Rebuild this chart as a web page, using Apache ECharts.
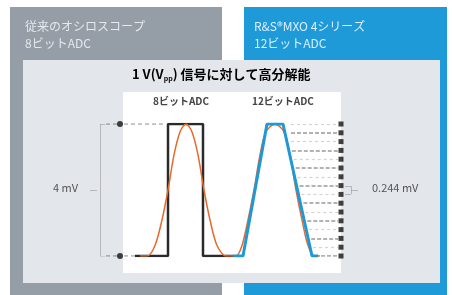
<!DOCTYPE html>
<html>
<head>
<meta charset="utf-8">
<script src="https://cdn.jsdelivr.net/npm/echarts@6/dist/echarts.min.js"></script>
<style>
  html, body { margin: 0; padding: 0; background: #fff; }
  #chart { width: 452px; height: 295px; }
</style>
</head>
<body>
<div id="chart"></div>
<script>
// time axis runs left to right, levels are ADC codes (0..15 shown)
const levels12 = [0, 1, 2, 3, 4, 5, 6, 7, 8, 9, 10, 11, 12, 13, 14, 15]
const levels8 = [0, 15]

// 8-bit quantised output (square pulse)
const pulse8X = [135, 168, 168, 203, 203, 233]
const pulse8Y = [0, 0, 15, 15, 0, 0]

// analogue input signal (orange)
const analogX = [140, 147, 155, 162, 168, 174, 180, 186, 192, 198, 204, 210, 217, 226, 232,
  236, 242, 248, 254, 260, 266, 275, 284, 290, 296, 302, 308, 315, 320]
const analogY = [0, 0, 1.2, 4.1, 7.5, 11.5, 14.1, 15, 14.1, 11.5, 7.5, 4.1, 1.2, 0, 0,
  0, 1.2, 4.1, 7.5, 11.5, 14.1, 15, 14.1, 11.5, 7.5, 4.1, 1.2, 0, 0]

// 12-bit quantised output
const pulse12X = [233, 243, 267, 283, 312, 318]
const pulse12Y = [0, 0, 15, 15, 0, 0]

const dot8X = 120
const dot12X = 341

const font = '"Noto Sans CJK JP", "Noto Sans", sans-serif'

function pairs(xs, ys) {
  return xs.map((x, i) => [x, ys[i]])
}

// where the falling 12-bit edge crosses a level
function edgeX(level) {
  const x0 = pulse12X[3], x1 = pulse12X[4]
  return x0 + (x1 - x0) * (15 - level) / 15
}

const dashDark = []
const dashLight = []
levels12.forEach(k => {
  const start = Math.max(291, edgeX(k) + 3)
  const seg = { coords: [[start, k], [dot12X - 3, k]] }
  if (k % 2 === 0) dashDark.push(seg)
  else dashLight.push(seg)
})

const leftDashes = [
  { coords: [[106, 15], [117, 15]] },
  { coords: [[124, 15], [166, 15]] },
  { coords: [[106, 0], [117, 0]] },
  { coords: [[124, 0], [138, 0]] }
]

const brackets = [
  { coords: [[100, 0], [100, 15]] },
  { coords: [[100, 15], [105, 15]] },
  { coords: [[100, 0], [105, 0]] },
  { coords: [[90, 7.5], [97, 7.5]] },
  { coords: [[345, 7.95], [351, 7.95]] },
  { coords: [[351, 7.95], [351, 7.05]] },
  { coords: [[351, 7.05], [345, 7.05]] },
  { coords: [[351, 7.5], [358, 7.5]] }
]

const chart = echarts.init(document.getElementById('chart'))

chart.setOption({
  animation: false,
  graphic: [
    { type: 'rect', z: -10, shape: { x: 10, y: 7, width: 212, height: 288 }, style: { fill: '#959ea6' } },
    { type: 'rect', z: -10, shape: { x: 244, y: 7, width: 203, height: 288 }, style: { fill: '#1f9ad8' } },
    { type: 'rect', z: -9, shape: { x: 23, y: 60, width: 417, height: 223 }, style: { fill: '#e3e7eb' } },
    { type: 'rect', z: -8, shape: { x: 123, y: 92, width: 218, height: 181 }, style: { fill: '#ffffff' } },
    { type: 'text', left: 25, top: 20, style: { text: '従来のオシロスコープ', font: '12px ' + font, fill: '#e4e9ed' } },
    { type: 'text', left: 25, top: 37, style: { text: '8ビットADC', font: '12px ' + font, fill: '#e4e9ed' } },
    { type: 'text', left: 254, top: 20, style: { text: 'R&S®MXO 4シリーズ', font: '12px ' + font, fill: '#dcefff' } },
    { type: 'text', left: 254, top: 37, style: { text: '12ビットADC', font: '12px ' + font, fill: '#dcefff' } },
    {
      type: 'text', left: 132, top: 68,
      style: {
        text: '{a|1 V(V}{s|pp}{a|) 信号に対して高分解能}',
        rich: {
          a: { fontSize: 13, fontWeight: 'bold', fontFamily: font, color: '#444' },
          s: { fontSize: 7, fontWeight: 'bold', fontFamily: font, color: '#444', padding: [8, 0, 0, 0] }
        }
      }
    },
    { type: 'text', left: 153, top: 96, style: { text: '8ビットADC', font: 'bold 10px ' + font, fill: '#444' } },
    { type: 'text', left: 252, top: 96, style: { text: '12ビットADC', font: 'bold 10px ' + font, fill: '#444' } },
    { type: 'text', left: 53, top: 182, style: { text: '4 mV', font: '11px ' + font, fill: '#555' } },
    { type: 'text', left: 372, top: 182, style: { text: '0.244 mV', font: '11px ' + font, fill: '#555' } }
  ],
  grid: { left: 40, top: 124, width: 320, height: 132 },
  xAxis: { type: 'value', min: 40, max: 360, show: false },
  yAxis: { type: 'value', min: 0, max: 15, show: false },
  series: [
    {
      type: 'lines', coordinateSystem: 'cartesian2d', z: 2,
      lineStyle: { color: '#888', width: 1 },
      data: brackets
    },
    {
      type: 'lines', coordinateSystem: 'cartesian2d', z: 2,
      lineStyle: { color: '#555', width: 1.5, type: [4, 3] },
      data: leftDashes
    },
    {
      type: 'lines', coordinateSystem: 'cartesian2d', z: 2,
      lineStyle: { color: '#333', width: 1.5, type: [4, 2] },
      data: dashDark
    },
    {
      type: 'lines', coordinateSystem: 'cartesian2d', z: 2,
      lineStyle: { color: '#aaa', width: 1.2, type: [3, 3] },
      data: dashLight
    },
    {
      type: 'line', z: 3, symbol: 'none',
      lineStyle: { color: '#2a2a2a', width: 2.5 },
      data: pairs(pulse8X, pulse8Y)
    },
    {
      type: 'line', z: 4, symbol: 'none', smooth: 0.3,
      lineStyle: { color: '#e8692b', width: 1.5 },
      data: pairs(analogX, analogY)
    },
    {
      type: 'line', z: 5, symbol: 'none',
      lineStyle: { color: '#1e98d6', width: 3 },
      data: pairs(pulse12X, pulse12Y)
    },
    {
      type: 'scatter', z: 6, symbol: 'circle', symbolSize: 6,
      itemStyle: { color: '#111' },
      data: levels8.map(v => [dot8X, v])
    },
    {
      type: 'scatter', z: 6, symbol: 'rect', symbolSize: 5,
      itemStyle: { color: '#111' },
      data: levels12.map(v => [dot12X, v])
    }
  ]
})
</script>
</body>
</html>
